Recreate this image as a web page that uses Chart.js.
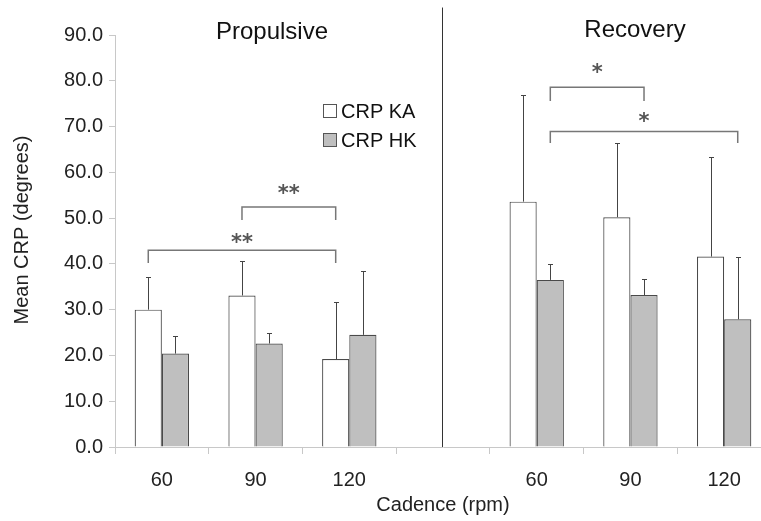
<!DOCTYPE html>
<html>
<head>
<meta charset="utf-8">
<script src="https://cdn.jsdelivr.net/npm/chart.js@4.4.0/dist/chart.umd.min.js"></script>
<style>
html, body { margin: 0; padding: 0; background: #fff; overflow: hidden; }
canvas { display: block; }
</style>
</head>
<body>
<canvas id="crpChart" width="772" height="521"></canvas>
<script>
// cadence groups (4th slot is the gap between the two phases)
const cadences = ['60', '90', '120', '', '60', '90', '120'];
const crpKA = [30.0, 33.1, 19.2, null, 53.6, 50.2, 41.6];
const crpKAsd = [7.1, 7.5, 12.4, null, 23.3, 16.1, 21.8];
const crpHK = [20.4, 22.6, 24.5, null, 36.5, 33.2, 27.9];
const crpHKsd = [3.8, 2.2, 14.0, null, 3.4, 3.4, 13.7];
const phaseTitles = ['Propulsive', 'Recovery'];
const yTitle = 'Mean CRP (degrees)';

// significance brackets (dataset, from/to category, bracket top, leg end, star level)
const brackets = [
    { ds: 0, from: 1, to: 2, top: 52.4, leg: 49.6, star: 56.4, text: '**' },
    { ds: 0, from: 0, to: 2, top: 43.0, leg: 40.2, star: 45.6, text: '**' },
    { ds: 1, from: 4, to: 5, top: 78.6, leg: 75.6, star: 82.7, text: '*' },
    { ds: 1, from: 4, to: 6, top: 68.9, leg: 66.4, star: 72.1, text: '*' }
];

const FONT = 'Liberation Sans, Arial, sans-serif';
const sds = [crpKAsd, crpHKsd];

const extras = {
    id: 'extras',
    afterDatasetsDraw(chart) {
        const ctx = chart.ctx;
        const x = chart.scales.x, y = chart.scales.y;
        ctx.save();

        // error bars (upper only)
        ctx.strokeStyle = '#444';
        ctx.lineWidth = 1;
        chart.data.datasets.forEach((ds, di) => {
            const meta = chart.getDatasetMeta(di);
            meta.data.forEach((bar, i) => {
                const v = ds.data[i];
                if (v == null) return;
                const top = Math.round(y.getPixelForValue(v + sds[di][i])) + 0.5;
                const bx = Math.round(bar.x) + 0.5;
                ctx.beginPath();
                ctx.moveTo(bx, bar.y);
                ctx.lineTo(bx, top);
                ctx.moveTo(bx - 2.5, top);
                ctx.lineTo(bx + 2.5, top);
                ctx.stroke();
            });
        });

        // divider between phases
        const dx = Math.round(x.getPixelForValue(3)) - 0.5;
        ctx.strokeStyle = '#333';
        ctx.beginPath();
        ctx.moveTo(dx, y.getPixelForValue(96));
        ctx.lineTo(dx, chart.chartArea.bottom);
        ctx.stroke();

        // significance brackets
        ctx.strokeStyle = '#777';
        ctx.lineWidth = 1.5;
        ctx.fillStyle = '#555';
        ctx.font = 'bold 21px "DejaVu Sans", sans-serif';
        ctx.textAlign = 'center';
        ctx.textBaseline = 'alphabetic';
        brackets.forEach(b => {
            const meta = chart.getDatasetMeta(b.ds);
            const x1 = meta.data[b.from].x, x2 = meta.data[b.to].x;
            const yt = y.getPixelForValue(b.top), yl = y.getPixelForValue(b.leg);
            ctx.beginPath();
            ctx.moveTo(x1, yl);
            ctx.lineTo(x1, yt);
            ctx.lineTo(x2, yt);
            ctx.lineTo(x2, yl);
            ctx.stroke();
            const m = ctx.measureText(b.text);
            const cy = y.getPixelForValue(b.star);
            ctx.fillText(b.text, (x1 + x2) / 2, cy + (m.actualBoundingBoxAscent - m.actualBoundingBoxDescent) / 2);
        });

        // phase titles
        ctx.fillStyle = '#111';
        ctx.font = '24px ' + FONT;
        ctx.fillText(phaseTitles[0], 272, 39);
        ctx.fillText(phaseTitles[1], 635, 37);

        // y axis title
        ctx.save();
        ctx.font = '20px ' + FONT;
        ctx.fillStyle = '#222';
        ctx.textBaseline = 'middle';
        ctx.translate(22, 230);
        ctx.rotate(-Math.PI / 2);
        ctx.fillText(yTitle, 0, 0);
        ctx.restore();

        // legend
        ctx.font = '20px ' + FONT;
        ctx.textAlign = 'left';
        ctx.textBaseline = 'middle';
        ctx.lineWidth = 1;
        chart.data.datasets.forEach((ds, di) => {
            const cy = 111 + di * 29;
            ctx.fillStyle = ds.backgroundColor;
            ctx.fillRect(323.5, cy - 6.5, 13, 13);
            ctx.strokeStyle = '#555';
            ctx.strokeRect(323.5, cy - 6.5, 13, 13);
            ctx.fillStyle = '#111';
            ctx.fillText(ds.label, 341, cy + 1);
        });
        ctx.restore();
    }
};

new Chart(document.getElementById('crpChart'), {
    type: 'bar',
    data: {
        labels: cadences,
        datasets: [
            {
                label: 'CRP KA',
                data: crpKA,
                backgroundColor: '#ffffff',
                borderColor: '#4a4a4a',
                borderWidth: 1.2,
                categoryPercentage: 0.58,
                barPercentage: 1.0
            },
            {
                label: 'CRP HK',
                data: crpHK,
                backgroundColor: '#bfbfbf',
                borderColor: '#4a4a4a',
                borderWidth: 1.2,
                categoryPercentage: 0.58,
                barPercentage: 1.0
            }
        ]
    },
    options: {
        responsive: false,
        animation: false,
        layout: { padding: { top: 35, left: 0, right: 1, bottom: 0 } },
        plugins: {
            legend: { display: false },
            tooltip: { enabled: false }
        },
        scales: {
            x: {
                afterFit: s => { s.height = 74; },
                grid: { drawOnChartArea: false, tickLength: 7, color: '#c8c8c8' },
                border: { color: '#c8c8c8' },
                ticks: { font: { size: 20, family: FONT }, color: '#222', padding: 14, maxRotation: 0 },
                title: { display: true, text: 'Cadence (rpm)', font: { size: 20, family: FONT }, color: '#222', padding: { top: 0, bottom: 4 } }
            },
            y: {
                min: 0,
                max: 90,
                afterFit: s => { s.width = 115; },
                grid: { drawOnChartArea: false, tickLength: 6, color: '#c8c8c8' },
                border: { color: '#c8c8c8' },
                ticks: { stepSize: 10, font: { size: 20, family: FONT }, color: '#222', padding: 6, callback: v => v.toFixed(1) },
                title: { display: false }
            }
        }
    },
    plugins: [extras]
});
</script>
</body>
</html>
